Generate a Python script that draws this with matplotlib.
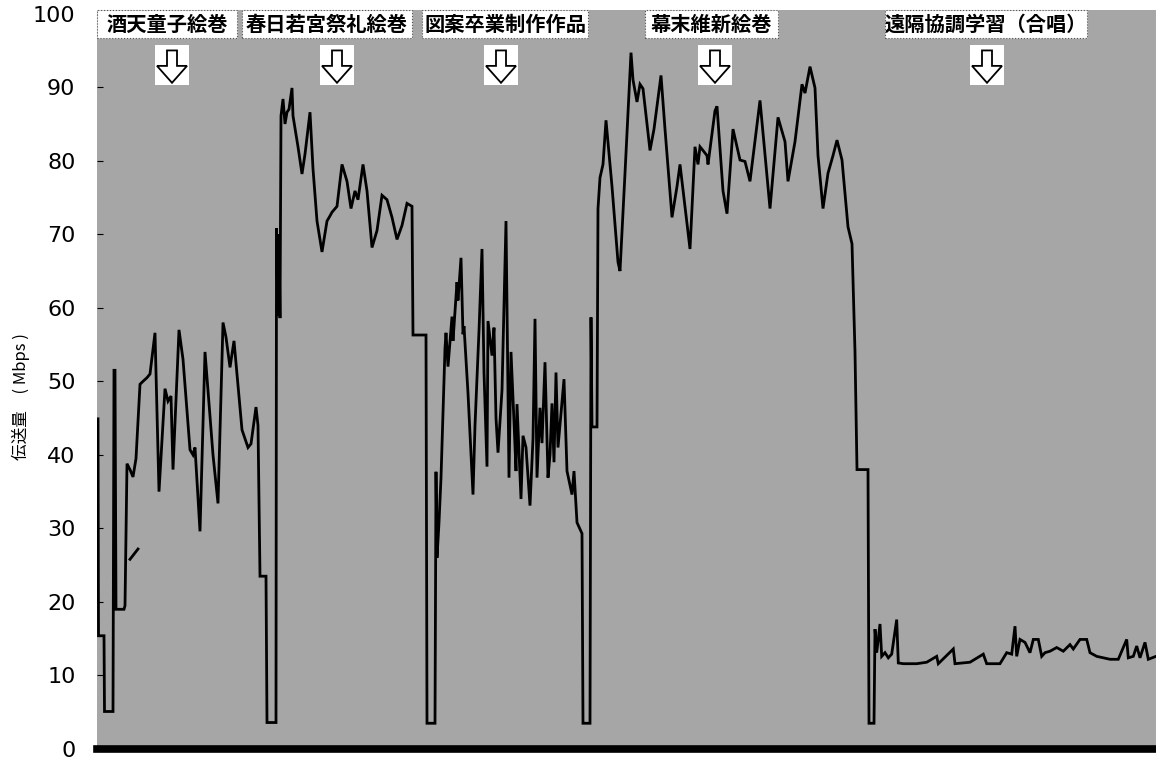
import numpy as np
import matplotlib
matplotlib.use("Agg")
import matplotlib.pyplot as plt
from matplotlib.patches import Rectangle, Polygon
import matplotlib.transforms as mtransforms

plt.rcParams['font.family'] = ['DejaVu Sans', 'Noto Sans CJK JP']

# elapsed time (arbitrary units) and throughput in Mbps
t = [98, 98.5, 104, 104.5, 113, 114, 115, 116, 124, 125, 127, 130, 133, 136, 140, 143, 147, 150,
     155, 159, 165, 168, 171, 173, 179, 183, 190, 193, 195, 200, 205, 209, 213, 218, 223, 226, 230,
     234, 242, 248, 251, 256, 258, 260, 266, 267, 275,
     276, 276.5, 278, 279, 280, 281, 283, 285, 287, 289, 292, 293, 298, 302, 305, 310, 313, 317,
     322, 327, 330, 332, 337, 342, 347, 351, 355, 358, 363, 367, 372, 377, 382, 387, 392, 397, 402,
     407, 412, 413, 426, 427, 435,
     436, 437, 439, 441, 445, 446, 448, 452, 453, 457, 458, 461, 463, 464, 468, 473, 475, 479, 482,
     484, 487, 488, 492, 494, 496, 498, 502, 506, 509, 511, 514, 516, 517, 521, 523, 526, 530, 533,
     535, 537, 540, 542, 545, 548, 550, 552, 554, 556, 558, 564, 567, 572, 574, 577, 582, 583, 590,
     591, 592, 597, 598, 600, 603, 606, 612, 618, 620, 625, 631, 633, 637, 640, 643, 650, 654, 661,
     665, 672, 677, 680, 690, 695, 698, 700, 703, 707, 708, 715, 717, 723, 727, 733, 740, 745, 750,
     760, 770, 778, 785, 788, 795, 802, 805, 810, 815, 818, 823, 828, 833, 837, 842, 848, 852, 855,
     857, 868, 869, 874,
     875, 876.7, 880, 881.7, 885, 888.3, 891.7, 896.7, 898.3, 903.3, 916.7, 926.7, 936.7, 938.3,
     953.3, 955, 970, 983.3, 986.7, 1000, 1006.7, 1011.7, 1015, 1016.7, 1020, 1025, 1030, 1033.3,
     1038.3, 1041.7, 1045, 1050, 1056.7, 1063.3, 1070, 1073.3, 1080, 1086.7, 1090, 1096.7, 1103.3,
     1110, 1118.3, 1126.7, 1128.3, 1133.3, 1136.7, 1140, 1145, 1148.3, 1156]
mbps = [44.9, 15.4, 15.4, 5.1, 5.1, 51.5, 51.5, 19.0, 19.0, 19.5, 38.8, 38.0, 37.0, 39.5, 49.6, 50.0,
        50.5, 51.0, 56.6, 35.0, 49.0, 47.3, 48.0, 38.0, 57.0, 53.0, 40.7, 40.0, 41.0, 29.6, 54.0,
        47.0, 40.0, 33.4, 58.0, 56.0, 51.9, 55.5, 43.4, 41.0, 41.5, 46.5, 44.0, 23.5, 23.5, 3.6, 3.6,
        3.6, 70.8, 59.0, 70.0, 58.6, 86.1, 88.4, 85.0, 86.6, 87.0, 89.9, 86.1, 81.9, 78.2, 80.9, 86.6,
        78.9, 71.8, 67.6, 71.8, 72.5, 73.0, 73.8, 79.5, 77.2, 73.5, 75.9, 74.7, 79.5, 75.9, 68.2, 70.5,
        75.3, 74.7, 72.3, 69.3, 71.2, 74.2, 73.8, 56.3, 56.3, 3.5, 3.5,
        37.7, 26.0, 30.8, 36.9, 54.5, 56.6, 52.0, 58.8, 55.5, 63.5, 61.0, 66.8, 56.4, 57.5, 48.4,
        34.6, 44.0, 56.9, 68.0, 51.2, 38.4, 58.2, 53.5, 57.3, 45.0, 40.3, 48.8, 71.8, 36.9, 54.0,
        44.5, 37.8, 46.9, 34.0, 42.6, 41.0, 33.1, 42.2, 58.5, 36.9, 46.4, 41.6, 52.6, 36.9, 40.0,
        47.0, 39.0, 51.2, 41.0, 50.3, 37.8, 34.6, 37.8, 30.8, 29.3, 3.5, 3.5,
        58.7, 43.8, 43.8, 73.5, 77.7, 79.5, 85.5, 76.5, 66.2, 65.0, 78.3, 94.7, 91.0, 88.0, 90.4,
        89.8, 81.4, 84.3, 91.6, 84.3, 72.3, 76.5, 79.5, 68.0, 81.9, 79.5, 81.9, 81.4, 80.7, 79.5,
        86.8, 87.4, 75.9, 72.8, 84.3, 80.1, 79.9, 77.2, 88.2, 73.5, 85.9, 82.6, 77.2, 82.6, 90.4,
        89.2, 92.8, 89.9, 80.7, 73.5, 78.3, 80.7, 82.8, 80.1, 71.0, 68.7, 54.0, 38.0, 38.0, 3.5, 3.5,
        16.3, 13.1, 17.0, 12.6, 13.1, 12.4, 12.9, 17.6, 11.7, 11.6, 11.6, 11.8, 12.6, 11.6, 13.6,
        11.6, 11.8, 12.9, 11.6, 11.6, 13.1, 12.9, 16.7, 12.6, 14.9, 14.5, 13.1, 14.9, 14.9, 12.6,
        13.1, 13.3, 13.8, 13.3, 14.2, 13.6, 14.9, 14.9, 13.1, 12.6, 12.4, 12.2, 12.2, 14.9, 12.4,
        12.6, 14.0, 12.4, 14.5, 12.2, 12.6]

# short stray stroke in the first section
stray_t = [130, 138]
stray_mbps = [25.8, 27.2]

# section captions and where their arrows point
captions = ['酒天童子絵巻', '春日若宮祭礼絵巻', '図案卒業制作作品', '幕末維新絵巻', '遠隔協調学習（合唱）']
caption_spans = [(97, 237), (242, 412), (422, 588), (645, 778), (885, 1087)]
arrow_t = [172, 337, 501, 715, 987]

yticks = list(range(0, 101, 10))

fig = plt.figure(figsize=(11.56, 7.62), dpi=100)
ax = fig.add_axes([97 / 1156, 13 / 762, 1 - 97 / 1156, 739 / 762])
ax.set_facecolor('#a6a6a6')

ax.plot(t, mbps, color='black', lw=2.0, solid_joinstyle='miter')
ax.plot(stray_t, stray_mbps, color='black', lw=2.0)

ax.set_xlim(97, 1156)
ax.set_ylim(0, 100.5)
ax.set_yticks(yticks)
ax.set_xticks([])
ax.tick_params(axis='y', direction='in', length=4, width=0.8, pad=15.5, labelsize=16)

for s in ['top', 'right', 'left']:
    ax.spines[s].set_visible(False)
ax.spines['bottom'].set_linewidth(5.5)

# caption boxes along the top
btrans = mtransforms.blended_transform_factory(ax.transData, ax.transAxes)
for text, (x0, x1) in zip(captions, caption_spans):
    ax.add_patch(Rectangle((x0, 0.962), x1 - x0, 0.038, transform=btrans, facecolor='white',
                           edgecolor='#555555', lw=0.8, ls=':', clip_on=False, zorder=3))
    ax.text((x0 + x1) / 2, 0.981, text, transform=btrans, ha='center', va='center',
            fontsize=14.6, fontweight='bold', family=['Noto Sans CJK JP'], zorder=4)

# hollow down arrows
for c in arrow_t:
    ax.add_patch(Rectangle((c - 17, 90.3), 34, 5.4, facecolor='white', edgecolor='none', zorder=3))
    shape = [(c - 5, 95.0), (c + 5, 95.0), (c + 5, 92.9), (c + 15, 92.9), (c, 90.6),
             (c - 15, 92.9), (c - 5, 92.9)]
    ax.add_patch(Polygon(shape, closed=True, facecolor='white', edgecolor='black', lw=1.3, zorder=4))

fig.text(21 / 1156, 1 - 397 / 762, '伝送量　( Mbps )', rotation=90, ha='center', va='center',
         fontsize=12, family=['Noto Sans CJK JP', 'DejaVu Sans'])

fig.savefig('out.png', dpi=100)
